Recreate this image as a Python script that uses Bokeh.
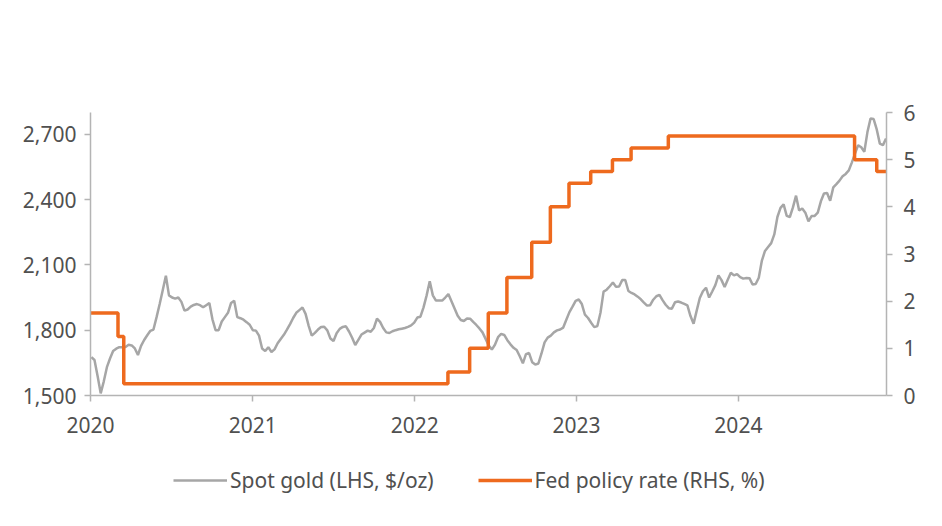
import numpy as np
import pandas as pd
from bokeh.plotting import figure
from bokeh.layouts import column
from bokeh.models import (Range1d, LinearAxis, FixedTicker, NumeralTickFormatter,
                          DatetimeTickFormatter, Legend, LegendItem)
from bokeh.embed import file_html
from bokeh.resources import INLINE

# ---------------- data ----------------
gold_start = "2020-01-03"   # weekly observations
gold_values = [
    1676, 1663, 1590, 1510, 1565, 1630, 1670, 1704, 1715, 1722,
    1722, 1723, 1733, 1730, 1716, 1686, 1728, 1755, 1777, 1797,
    1803, 1860, 1920, 1985, 2050, 1960, 1950, 1945, 1950, 1930,
    1890, 1895, 1908, 1916, 1920, 1915, 1905, 1915, 1925, 1850,
    1800, 1800, 1840, 1860, 1880, 1925, 1935, 1860, 1855, 1848,
    1837, 1825, 1800, 1798, 1775, 1716, 1704, 1722, 1700, 1712,
    1740, 1760, 1779, 1803, 1828, 1856, 1880, 1892, 1904, 1875,
    1820, 1775, 1788, 1803, 1815, 1816, 1799, 1762, 1750, 1786,
    1806, 1815, 1818, 1794, 1765, 1732, 1756, 1780, 1789, 1798,
    1793, 1810, 1853, 1838, 1810, 1790, 1787, 1795, 1800, 1804,
    1807, 1810, 1815, 1822, 1835, 1858, 1862, 1905, 1960, 2025,
    1960, 1936, 1936, 1936, 1950, 1966, 1933, 1900, 1866, 1847,
    1842, 1854, 1853, 1838, 1824, 1808, 1790, 1760, 1730, 1711,
    1733, 1768, 1783, 1778, 1754, 1735, 1719, 1709, 1680, 1648,
    1690, 1695, 1653, 1642, 1647, 1693, 1744, 1766, 1775, 1790,
    1799, 1803, 1812, 1848, 1883, 1908, 1935, 1941, 1920, 1871,
    1856, 1834, 1814, 1819, 1880, 1977, 1986, 2002, 2019, 2000,
    2001, 2030, 2030, 1980, 1971, 1964, 1954, 1942, 1927, 1913,
    1915, 1940, 1956, 1962, 1938, 1917, 1901, 1899, 1928, 1932,
    1927, 1921, 1914, 1865, 1830, 1890, 1948, 1979, 1995, 1950,
    1978, 2007, 2052, 2030, 1998, 2032, 2064, 2052, 2058, 2044,
    2037, 2040, 2039, 2010, 2012, 2041, 2120, 2164, 2182, 2200,
    2240, 2320, 2362, 2378, 2325, 2320, 2364, 2418, 2350, 2359,
    2340, 2300, 2324, 2325, 2340, 2392, 2428, 2430, 2395, 2456,
    2471, 2487, 2507, 2518, 2534, 2571, 2611, 2650, 2640, 2620,
    2710, 2772, 2770, 2722, 2657, 2650, 2680,
]

fed_dates = ["2020-01-01", "2020-03-03", "2020-03-16", "2022-03-17", "2022-05-05",
             "2022-06-16", "2022-07-28", "2022-09-22", "2022-11-03", "2022-12-15",
             "2023-02-02", "2023-03-23", "2023-05-04", "2023-07-27", "2024-09-19",
             "2024-11-08", "2024-11-30"]
fed_rate = [1.75, 1.25, 0.25, 0.5, 1.0, 1.75, 2.5, 3.25, 4.0, 4.5,
            4.75, 5.0, 5.25, 5.5, 5.0, 4.75, 4.75]

left_ticks = [1500, 1800, 2100, 2400, 2700]
right_ticks = [0, 1, 2, 3, 4, 5, 6]
year_ticks = ["2020-01-01", "2021-01-01", "2022-01-01", "2023-01-01", "2024-01-01"]

gold_label = "Spot gold (LHS, $/oz)"
fed_label = "Fed policy rate (RHS, %)"

# ---------------- styling ----------------
FONT = "Noto Sans"
FS = "21px"
TXT = "#505050"
AXC = "#b4b4b4"
GOLD_C = "#a6a6a6"
FED_C = "#ee6a1e"
GOLD_W = 2.5
FED_W = 3.5

gold_dates = pd.date_range(gold_start, periods=len(gold_values), freq="7D")
fed_x = pd.to_datetime(fed_dates)

p = figure(width=926, height=440, output_backend="svg", toolbar_location=None,
           x_axis_type="datetime",
           x_range=Range1d(pd.Timestamp("2020-01-01"), pd.Timestamp("2024-11-30")),
           y_range=Range1d(1500, 2800),
           min_border_left=90, min_border_right=40, min_border_top=112,
           min_border_bottom=45)
p.outline_line_color = None
p.xgrid.visible = False
p.ygrid.visible = False
p.extra_y_ranges = {"rate": Range1d(0, 6)}

p.line(gold_dates, gold_values, line_color=GOLD_C, line_width=GOLD_W)
p.step(fed_x, fed_rate, mode="after", line_color=FED_C, line_width=FED_W,
       y_range_name="rate")

raxis = LinearAxis(y_range_name="rate")
p.add_layout(raxis, "right")

for ax in [p.xaxis[0], p.yaxis[0], raxis]:
    ax.axis_line_color = AXC
    ax.axis_line_width = 1.5
    ax.major_tick_line_color = AXC
    ax.major_tick_line_width = 1.5
    ax.major_tick_out = 6
    ax.major_tick_in = 0
    ax.minor_tick_line_color = None
    ax.major_label_text_font = FONT
    ax.major_label_text_font_size = FS
    ax.major_label_text_color = TXT

p.yaxis[0].ticker = FixedTicker(ticks=left_ticks)
p.yaxis[0].formatter = NumeralTickFormatter(format="0,0")
p.yaxis[0].major_label_standoff = 8
raxis.ticker = FixedTicker(ticks=right_ticks)
raxis.major_label_standoff = 11

p.xaxis[0].ticker = FixedTicker(ticks=[pd.Timestamp(d).value // 10**6 for d in year_ticks])
p.xaxis[0].formatter = DatetimeTickFormatter(years="%Y", months="%Y", days="%Y")
p.xaxis[0].major_label_standoff = 15

# ---- legend strip (key swatches only, no visible data) ----
lg = figure(width=926, height=70, output_backend="svg", toolbar_location=None,
            x_range=Range1d(0, 1), y_range=Range1d(0, 1),
            x_axis_location=None, y_axis_location=None,
            min_border_left=0, min_border_right=0, min_border_top=0,
            min_border_bottom=0)
lg.outline_line_color = None
lg.xgrid.visible = False
lg.ygrid.visible = False
kg = lg.line([np.nan], [np.nan], line_color=GOLD_C, line_width=GOLD_W)
kf = lg.line([np.nan], [np.nan], line_color=FED_C, line_width=FED_W)

legend = Legend(items=[LegendItem(label=gold_label, renderers=[kg]),
                       LegendItem(label=fed_label, renderers=[kf])],
                orientation="horizontal", location=(83, 16),
                border_line_color=None, background_fill_alpha=0,
                label_text_font=FONT, label_text_font_size=FS,
                label_text_color=TXT, glyph_width=54, label_standoff=3,
                spacing=44, padding=0, margin=0)
lg.add_layout(legend, "center")

layout = column(p, lg, spacing=0)
open("out.html", "w").write(file_html(layout, INLINE))
